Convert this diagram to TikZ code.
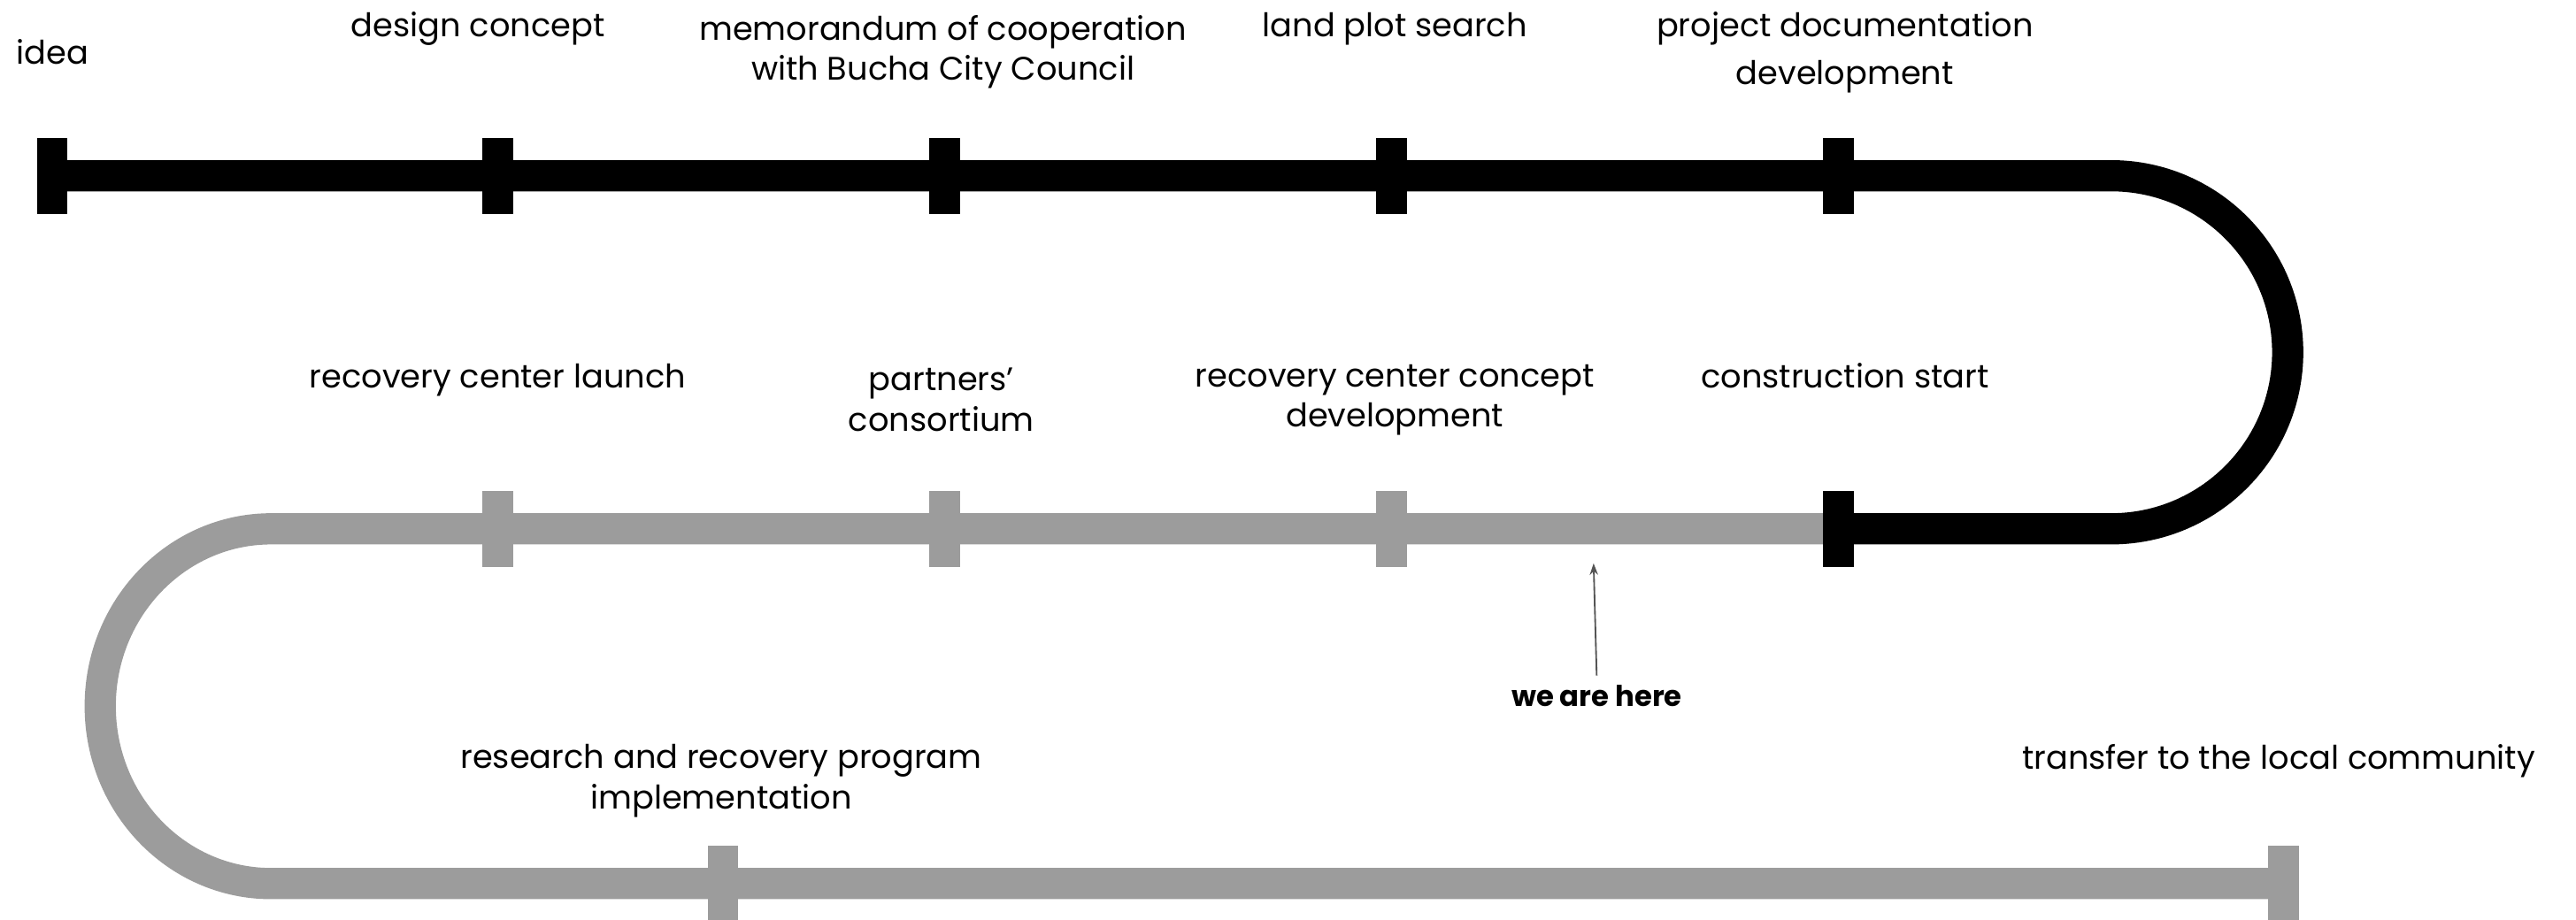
\documentclass[tikz,border=0pt]{standalone}
\usepackage{fontspec}
\setmainfont{Poppins}
\usetikzlibrary{arrows.meta}
\definecolor{tlgrey}{RGB}{156,156,156}
\definecolor{arrowgrey}{RGB}{85,85,85}
\begin{document}
\begin{tikzpicture}[x=1pt,y=-1pt,
  label/.style={font=\fontsize{19.8}{24.5}\selectfont, align=center, inner sep=2pt},
  tick/.style={rectangle, minimum width=18pt, minimum height=46pt, inner sep=0pt},
  blacktick/.style={tick, fill=black},
  greytick/.style={tick, fill=tlgrey},
  road/.style={line width=19pt, line cap=butt}]
\useasboundingbox[fill=white] (0,0) rectangle (1568,560);

% path coordinates
\coordinate (topStart) at (23,107);
\coordinate (topEnd) at (1285,107);
\coordinate (midLeft) at (165,322);

% ticks
\node[blacktick] (t1) at (32,107) {};
\node[blacktick] (t2) at (303,107) {};
\node[blacktick] (t3) at (575,107) {};
\node[blacktick] (t4) at (847,107) {};
\node[blacktick] (t5) at (1119,107) {};
\node[blacktick] (t6) at (1119,322) {};
\node[greytick] (t7) at (847,322) {};
\node[greytick] (t8) at (575,322) {};
\node[greytick] (t9) at (303,322) {};
\node[greytick] (t10) at (440,538) {};
\node[greytick] (t11) at (1390,538) {};

% roads
\draw[road, draw=tlgrey] (t6.center) -- (midLeft) arc[start angle=90, end angle=270, x radius=104pt, y radius=108pt] -- (t11.center);
\draw[road, draw=black] (topStart) -- (topEnd) arc[start angle=90, end angle=-90, radius=107.5pt] -- (t6.center);

% ticks drawn over the roads
\foreach \n in {t1,t2,t3,t4,t5,t6} \fill[black] (\n.south west) rectangle (\n.north east);
\foreach \n in {t7,t8,t9,t10,t11} \fill[tlgrey] (\n.south west) rectangle (\n.north east);

% labels
\node[label] (l1) at (32,31.5) {idea};
\node[label] (l2) at (291,17.5) {design concept};
\node[label] (l3) at (574,31.5) {memorandum of cooperation\\with Bucha City Council};
\node[label] (l4) at (849,17.5) {land plot search};
\node[label, font=\fontsize{19.8}{29}\selectfont] (l5) at (1123,32) {project documentation\\development};
\node[label] (l6) at (303,231.5) {recovery center launch};
\node[label] (l7) at (573,243.5) {partners’\\consortium};
\node[label] (l8) at (849,243.5) {recovery center concept\\development};
\node[label] (l9) at (1123,228.5) {construction start};
\node[label] (l10) at (439,475.5) {research and recovery program\\implementation};
\node[label] (l11) at (1387,463.5) {transfer to the local community};
\node[label, font=\fontsize{17.4}{20}\bfseries] (we) at (972,424) {we are here};

\coordinate (here) at (970,343);
\draw[arrowgrey, line width=1pt, -{Stealth[length=7pt,width=5pt]}, shorten <=4pt] (we.north) -- (here);
\end{tikzpicture}
\end{document}
